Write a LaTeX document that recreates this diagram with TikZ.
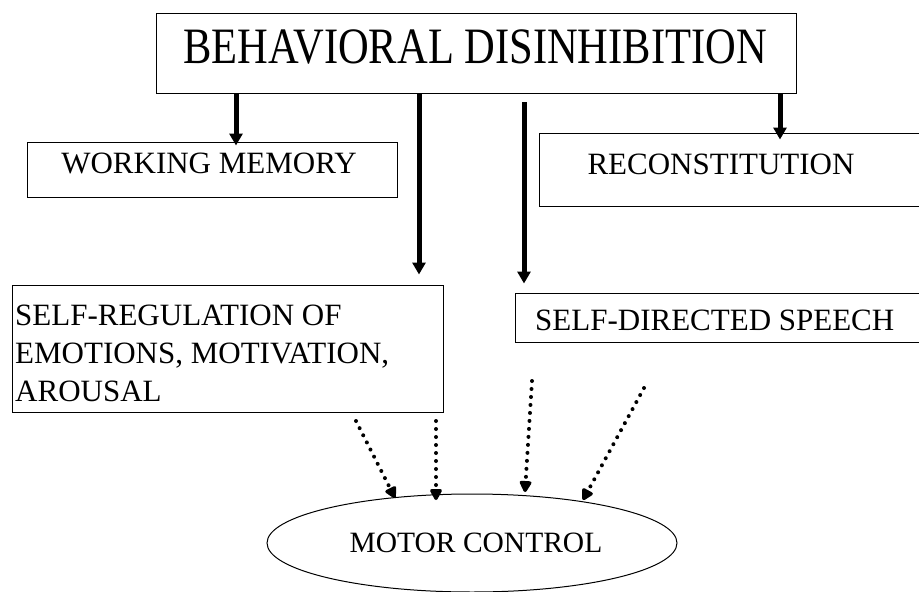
\documentclass[tikz,border=0pt]{standalone}
\usepackage{fontspec}
\usepackage{graphicx}
\setmainfont{Liberation Serif}
\usetikzlibrary{arrows.meta,shapes.geometric}
\tikzset{
  box/.style={draw, line width=1pt, rectangle, inner sep=0pt},
  lbl/.style={inner sep=0pt, font=\fontsize{31}{38}\selectfont},
  solidarrow/.style={line width=5pt, -{Triangle[length=12pt,width=13pt]}},
  dotarrow/.style={line width=4pt, line cap=round, dash pattern=on 0pt off 8pt, -{Triangle[length=13pt,width=13pt,round=false,line cap=butt]}},
}
\begin{document}
\begin{tikzpicture}[x=1pt,y=-1pt]
\useasboundingbox (0,0) rectangle (919,592);
% boxes
\node[box, minimum width=640pt, minimum height=80pt] (top) at (476,53) {};
\node[inner sep=0pt, anchor=base] (toptxt) at (475,63) {\scalebox{1}[1.2]{\fontsize{42.5}{50}\selectfont BEHAVIORAL DISINHIBITION}};
\node[box, minimum width=370pt, minimum height=55pt] (wm) at (212,169.5) {};
\node[lbl, anchor=base] (wmtxt) at (209,173) {WORKING MEMORY};
\node[box, minimum width=386pt, minimum height=73pt] (rec) at (732,169.5) {};
\node[lbl, anchor=base] (rectxt) at (721,174) {RECONSTITUTION};
\node[box, minimum width=431pt, minimum height=127pt] (sr) at (227.5,348.5) {};
\node[lbl, anchor=north west, align=left] (srtxt) at (15,304.5) {SELF-REGULATION OF\\EMOTIONS, MOTIVATION,\\AROUSAL};
\node[box, minimum width=410pt, minimum height=49pt] (sd) at (720,317.5) {};
\node[lbl, anchor=base west] (sdtxt) at (535,330) {SELF-DIRECTED SPEECH};
\node[draw, line width=1pt, ellipse, minimum width=410pt, minimum height=98pt, inner sep=0pt] (mc) at (472,543) {};
\node[inner sep=0pt, anchor=base, font=\fontsize{29.5}{35}\selectfont] (mctxt) at (476,552) {MOTOR CONTROL};
% solid arrows
\draw[solidarrow] (top.south -| 236,0) -- ([yshift=-4pt]wm.north -| 236,0);
\draw[solidarrow] (top.south -| 419,0) -- ([yshift=10pt]sr.north -| 419,0);
\coordinate (a3) at (524,102);
\draw[solidarrow] (a3) -- ([yshift=9pt]sd.north -| a3);
\draw[solidarrow] (top.south -| 780,0) -- ([yshift=-7pt]rec.north -| 780,0);
% dotted arrows
\coordinate (s1) at (356,421); \coordinate (e1) at (395,498);
\coordinate (s2) at (436,421); \coordinate (e2) at (436,500);
\coordinate (s3) at (532,381); \coordinate (e3) at (525,492);
\coordinate (s4) at (644,388); \coordinate (e4) at (583,500);
\draw[dotarrow] (s1) -- (e1);
\draw[dotarrow] (s2) -- (e2);
\draw[dotarrow] (s3) -- (e3);
\draw[dotarrow] (s4) -- (e4);
\end{tikzpicture}
\end{document}
